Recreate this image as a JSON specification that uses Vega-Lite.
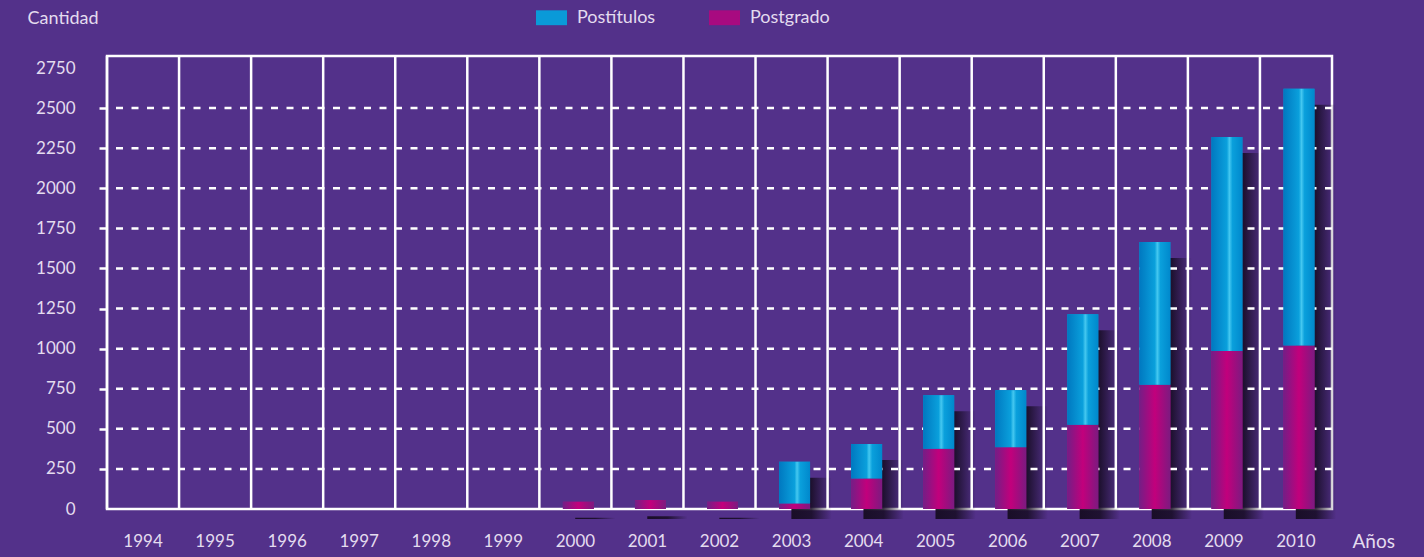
{
  "$schema": "https://vega.github.io/schema/vega-lite/v6.json",
  "width": 1225,
  "height": 453,
  "autosize": {"type": "none"},
  "padding": {"left": 107, "top": 56, "right": 92, "bottom": 48},
  "datasets": {
    "main": [
      {"year": "1994", "serie": "Postgrado", "cantidad": 0},
      {"year": "1994", "serie": "Postítulos", "cantidad": 0},
      {"year": "1995", "serie": "Postgrado", "cantidad": 0},
      {"year": "1995", "serie": "Postítulos", "cantidad": 0},
      {"year": "1996", "serie": "Postgrado", "cantidad": 0},
      {"year": "1996", "serie": "Postítulos", "cantidad": 0},
      {"year": "1997", "serie": "Postgrado", "cantidad": 0},
      {"year": "1997", "serie": "Postítulos", "cantidad": 0},
      {"year": "1998", "serie": "Postgrado", "cantidad": 0},
      {"year": "1998", "serie": "Postítulos", "cantidad": 0},
      {"year": "1999", "serie": "Postgrado", "cantidad": 0},
      {"year": "1999", "serie": "Postítulos", "cantidad": 0},
      {"year": "2000", "serie": "Postgrado", "cantidad": 45},
      {"year": "2000", "serie": "Postítulos", "cantidad": 0},
      {"year": "2001", "serie": "Postgrado", "cantidad": 55},
      {"year": "2001", "serie": "Postítulos", "cantidad": 0},
      {"year": "2002", "serie": "Postgrado", "cantidad": 45},
      {"year": "2002", "serie": "Postítulos", "cantidad": 0},
      {"year": "2003", "serie": "Postgrado", "cantidad": 35},
      {"year": "2003", "serie": "Postítulos", "cantidad": 260},
      {"year": "2004", "serie": "Postgrado", "cantidad": 190},
      {"year": "2004", "serie": "Postítulos", "cantidad": 215},
      {"year": "2005", "serie": "Postgrado", "cantidad": 375},
      {"year": "2005", "serie": "Postítulos", "cantidad": 335},
      {"year": "2006", "serie": "Postgrado", "cantidad": 385},
      {"year": "2006", "serie": "Postítulos", "cantidad": 355},
      {"year": "2007", "serie": "Postgrado", "cantidad": 525},
      {"year": "2007", "serie": "Postítulos", "cantidad": 690},
      {"year": "2008", "serie": "Postgrado", "cantidad": 775},
      {"year": "2008", "serie": "Postítulos", "cantidad": 890},
      {"year": "2009", "serie": "Postgrado", "cantidad": 985},
      {"year": "2009", "serie": "Postítulos", "cantidad": 1335},
      {"year": "2010", "serie": "Postgrado", "cantidad": 1020},
      {"year": "2010", "serie": "Postítulos", "cantidad": 1600}
    ],
    "grid": [
      {"v": 250}, {"v": 500}, {"v": 750}, {"v": 1000}, {"v": 1250},
      {"v": 1500}, {"v": 1750}, {"v": 2000}, {"v": 2250}, {"v": 2500}
    ]
  },
  "layer": [
    {
      "data": {"name": "main"},
      "transform": [
        {"aggregate": [{"op": "sum", "field": "cantidad", "as": "total"}], "groupby": ["year"]},
        {"filter": "datum.total > 0"}
      ],
      "mark": {
        "type": "bar",
        "width": {"band": 0.56},
        "xOffset": 20,
        "yOffset": 16,
        "y2Offset": 10,
        "fill": {
          "gradient": "linear", "x1": 0, "x2": 1, "y1": 0, "y2": 0,
          "stops": [
            {"offset": 0, "color": "rgba(22,12,34,0.95)"},
            {"offset": 0.5, "color": "rgba(22,12,34,0.85)"},
            {"offset": 1, "color": "rgba(22,12,34,0)"}
          ]
        }
      },
      "encoding": {
        "x": {"field": "year", "type": "ordinal", "scale": {"paddingInner": 0, "paddingOuter": 0}},
        "y": {"field": "total", "type": "quantitative", "scale": {"domain": [0, 2825], "nice": false}},
        "y2": {"datum": 0}
      }
    },
    {
      "data": {"name": "grid"},
      "mark": {"type": "rule", "color": "white", "strokeWidth": 2.5, "strokeDash": [7, 8.5]},
      "encoding": {
        "y": {"field": "v", "type": "quantitative", "scale": {"domain": [0, 2825], "nice": false}}
      }
    },
    {
      "data": {"name": "main"},
      "transform": [{"filter": "datum.serie === 'Postgrado'"}],
      "mark": {"type": "rule", "color": "white", "strokeWidth": 2.5},
      "encoding": {
        "x": {"field": "year", "type": "ordinal", "bandPosition": 0, "scale": {"paddingInner": 0, "paddingOuter": 0}}
      }
    },
    {
      "data": {"name": "main"},
      "transform": [
        {"stack": "cantidad", "groupby": ["year"], "sort": [{"field": "serie", "order": "ascending"}], "as": ["y0", "y1"]}
      ],
      "mark": {"type": "bar", "width": {"band": 0.43}, "xOffset": 3},
      "encoding": {
        "x": {"field": "year", "type": "ordinal", "scale": {"paddingInner": 0, "paddingOuter": 0}},
        "y": {"field": "y1", "type": "quantitative", "scale": {"domain": [0, 2825], "nice": false}},
        "y2": {"field": "y0"},
        "color": {
          "field": "serie", "type": "nominal",
          "scale": {"domain": ["Postítulos", "Postgrado"], "range": ["#0a9ad8", "#a80a80"]},
          "legend": {
            "title": null, "orient": "none", "direction": "horizontal",
            "legendX": 429, "legendY": -54, "padding": 0,
            "symbolType": "M-1,-0.48H1V0.48H-1Z", "symbolSize": 961, "symbolStrokeWidth": 0,
            "labelOffset": 10, "labelColor": "#e4dcef", "labelFontSize": 18, "columnPadding": 53
          }
        }
      }
    },
    {
      "data": {"name": "main"},
      "transform": [
        {"stack": "cantidad", "groupby": ["year"], "sort": [{"field": "serie", "order": "ascending"}], "as": ["y0", "y1"]},
        {"filter": "datum.serie === 'Postgrado'"}
      ],
      "mark": {
        "type": "bar", "width": {"band": 0.43}, "xOffset": 3,
        "fill": {
          "gradient": "linear", "x1": 0, "x2": 1, "y1": 0, "y2": 0,
          "stops": [
            {"offset": 0, "color": "#741e86"},
            {"offset": 0.5, "color": "#c2007c"},
            {"offset": 1, "color": "#7c1a80"}
          ]
        }
      },
      "encoding": {
        "x": {"field": "year", "type": "ordinal", "scale": {"paddingInner": 0, "paddingOuter": 0}},
        "y": {"field": "y1", "type": "quantitative", "scale": {"domain": [0, 2825], "nice": false}},
        "y2": {"field": "y0"}
      }
    },
    {
      "data": {"name": "main"},
      "transform": [
        {"stack": "cantidad", "groupby": ["year"], "sort": [{"field": "serie", "order": "ascending"}], "as": ["y0", "y1"]},
        {"filter": "datum.serie === 'Postítulos'"}
      ],
      "mark": {
        "type": "bar", "width": {"band": 0.43}, "xOffset": 3,
        "fill": {
          "gradient": "linear", "x1": 0, "x2": 1, "y1": 0, "y2": 0,
          "stops": [
            {"offset": 0, "color": "#0078c0"},
            {"offset": 0.5, "color": "#0aa0dc"},
            {"offset": 0.58, "color": "#45c8f0"},
            {"offset": 0.68, "color": "#0aa0dc"},
            {"offset": 1, "color": "#0088cc"}
          ]
        }
      },
      "encoding": {
        "x": {
          "field": "year", "type": "ordinal",
          "scale": {"paddingInner": 0, "paddingOuter": 0},
          "axis": {
            "title": "Años", "labelAngle": 0, "ticks": false, "domain": false, "grid": false,
            "bandPosition": 0.5, "labelAlign": "center",
            "labelColor": "#e4dcef", "labelFontSize": 17, "labelPadding": 32, "labelBaseline": "middle",
            "titleColor": "#e4dcef", "titleFontSize": 19, "titleFontWeight": "normal",
            "titleX": 1245, "titleY": 32, "titleAlign": "left", "titleBaseline": "middle"
          }
        },
        "y": {
          "field": "y1", "type": "quantitative",
          "scale": {"domain": [0, 2825], "nice": false},
          "axis": {
            "title": "Cantidad", "titleAngle": 0, "titleX": -80, "titleY": -38, "titleAlign": "left",
            "titleBaseline": "middle", "titleColor": "#e4dcef", "titleFontSize": 18, "titleFontWeight": "normal",
            "values": [0, 250, 500, 750, 1000, 1250, 1500, 1750, 2000, 2250, 2500, 2750],
            "format": "d",
            "grid": false, "domain": false,
            "tickColor": {"condition": {"test": "datum.value == 0 || datum.value == 2750", "value": "transparent"}, "value": "white"},
            "tickSize": 8, "tickWidth": 2.5, "labelPadding": 24,
            "labelColor": "#e4dcef", "labelFontSize": 17
          }
        },
        "y2": {"field": "y0"}
      }
    }
  ],
  "config": {
    "background": "#53318a",
    "font": "Lato",
    "view": {"stroke": "white", "strokeWidth": 2.5}
  }
}
